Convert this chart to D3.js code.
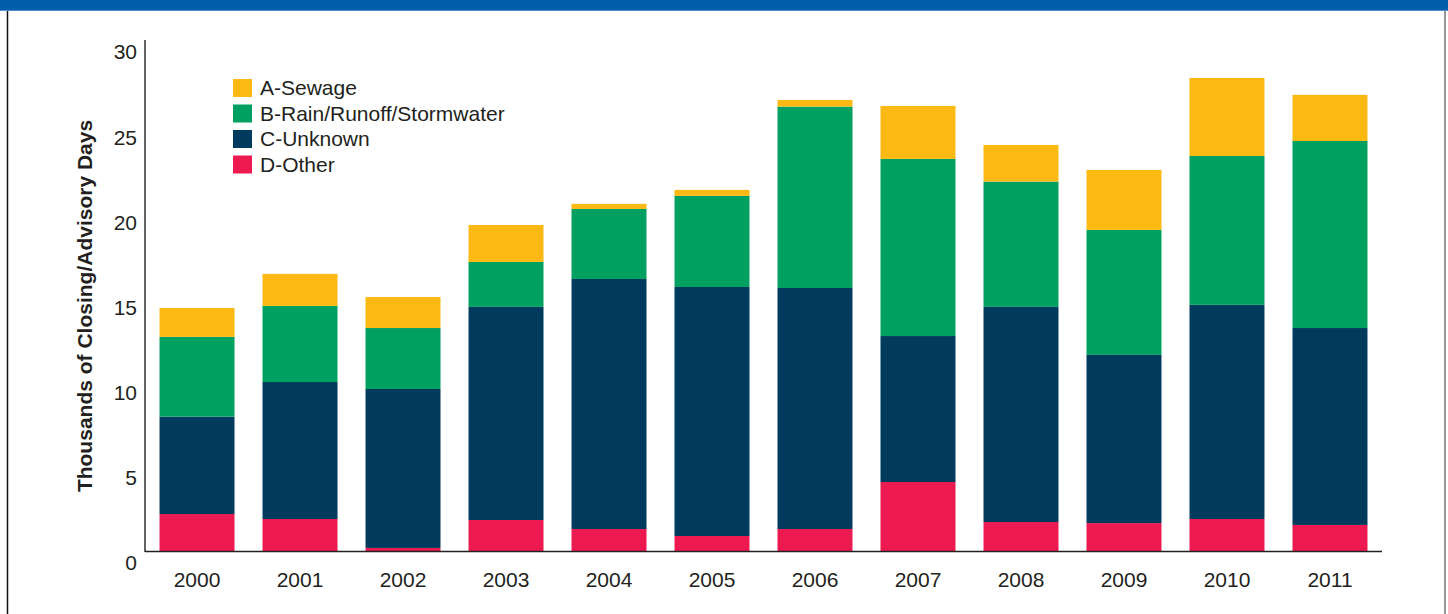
<!DOCTYPE html>
<html><head><meta charset="utf-8">
<script src="https://cdn.jsdelivr.net/npm/d3@7"></script>
<style>
html,body{margin:0;padding:0;background:#fff;}
svg{display:block;font-family:"Liberation Sans",Arial,sans-serif;}
</style></head>
<body><svg id="c" width="1448" height="614"></svg>
<script>
const years = ["2000","2001","2002","2003","2004","2005","2006","2007","2008","2009","2010","2011"];
const seriesNames = ["D-Other","C-Unknown","B-Rain/Runoff/Stormwater","A-Sewage"];
const otherVals   = [2.17,1.88,0.18,1.82,1.29,0.88,1.29,4.05,1.70,1.64,1.88,1.53];
const unknownVals = [5.72,8.04,9.33,12.51,14.68,14.62,14.15,8.57,12.63,9.87,12.57,11.56];
const rainVals    = [4.68,4.47,3.58,2.64,4.11,5.35,10.65,10.40,7.36,7.34,8.74,10.98];
const sewageVals  = [1.70,1.88,1.82,2.17,0.30,0.35,0.39,3.11,2.15,3.52,4.58,2.71];
const colors = ["#ED1A51","#003A5D","#00A160","#FDB913"];
const yTicks = [0,5,10,15,20,25,30];
const legendOrder = ["A-Sewage","B-Rain/Runoff/Stormwater","C-Unknown","D-Other"];

const svg = d3.select("#c");
// frame
svg.append("rect").attr("x",0).attr("y",0).attr("width",1448).attr("height",10).attr("fill","#005EAB");
svg.append("line").attr("x1",0).attr("x2",1448).attr("y1",10.5).attr("y2",10.5).attr("stroke","#4f8fcc").attr("stroke-width",1);
svg.append("line").attr("x1",7.5).attr("x2",7.5).attr("y1",11).attr("y2",614).attr("stroke","#111").attr("stroke-width",1.5);
svg.append("line").attr("x1",1445).attr("x2",1445).attr("y1",11).attr("y2",614).attr("stroke","#777").attr("stroke-width",1.5);

const x0 = 145, x1 = 1382, yBase = 551, yTop = 40;
const x = d3.scaleBand().domain(years).range([x0,x1]).paddingInner(0.272).paddingOuter(0.141);
const y = d3.scaleLinear().domain([0,30]).range([yBase,yTop]);

const table = years.map((yr,i)=>({year:yr,"D-Other":otherVals[i],"C-Unknown":unknownVals[i],"B-Rain/Runoff/Stormwater":rainVals[i],"A-Sewage":sewageVals[i]}));
const stacked = d3.stack().keys(seriesNames)(table);
const color = d3.scaleOrdinal().domain(seriesNames).range(colors);

svg.append("g").selectAll("g").data(stacked).join("g").attr("fill",d=>color(d.key))
  .selectAll("rect").data(d=>d).join("rect")
  .attr("x",d=>x(d.data.year)).attr("width",x.bandwidth())
  .attr("y",d=>y(d[1])).attr("height",d=>y(d[0])-y(d[1]));

// y axis
const ya = svg.append("g").attr("transform",`translate(${x0},0)`)
  .call(d3.axisLeft(y).tickValues(yTicks).tickSize(0).tickPadding(8));
ya.select(".domain").attr("stroke","#222").attr("stroke-width",1.4).attr("d",`M0,${yTop}V${yBase+1}`);
ya.selectAll("text").attr("font-size",21).attr("fill","#231f20").attr("font-family","'Liberation Sans',Arial,sans-serif").attr("dy","0.9em");

// x axis
const xa = svg.append("g").attr("transform",`translate(0,${yBase})`)
  .call(d3.axisBottom(x).tickSize(0).tickPadding(21));
xa.select(".domain").attr("stroke","#222").attr("stroke-width",1.4).attr("d",`M${x0},0.5H${x1}`);
xa.selectAll("text").attr("font-size",21).attr("fill","#231f20").attr("font-family","'Liberation Sans',Arial,sans-serif");

// y label
svg.append("text").attr("transform","translate(92,306) rotate(-90)").attr("text-anchor","middle")
  .attr("font-size",21).attr("font-weight","bold").attr("fill","#231f20").text("Thousands of Closing/Advisory Days");

// legend
const lg = svg.append("g").attr("transform","translate(233,79)");
legendOrder.forEach((k,i)=>{
  const g = lg.append("g").attr("transform",`translate(0,${i*25.5})`);
  g.append("rect").attr("width",19).attr("height",18).attr("fill",color(k));
  g.append("text").attr("x",27).attr("y",9).attr("dy","0.35em").attr("font-size",21).attr("fill","#231f20").text(k);
});
</script></body></html>
